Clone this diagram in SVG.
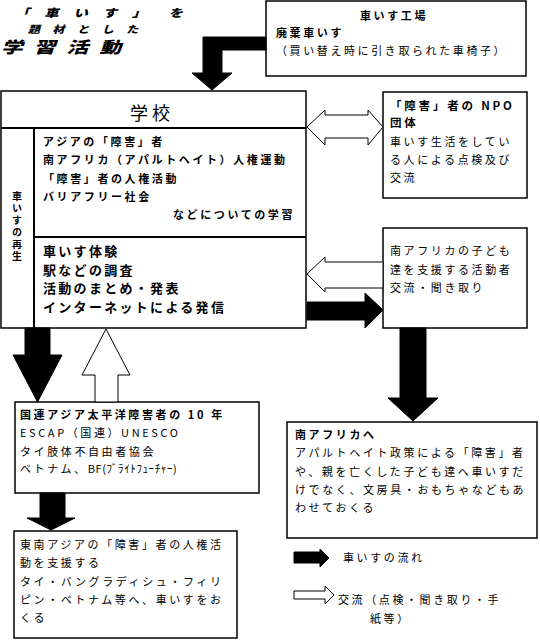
<svg xmlns="http://www.w3.org/2000/svg" width="540" height="640" viewBox="0 0 540 640">
<style>
text{font-family:"Noto Sans CJK JP","Noto Sans",sans-serif;fill:#000}
.box{fill:#fff;stroke:#000;stroke-width:1.5}
.ln{stroke:#000;stroke-width:2;fill:none}
.b{font-size:11px;letter-spacing:2.6px}
.bb{font-size:11px;font-weight:bold;letter-spacing:2.6px}
.big{font-size:13px;font-weight:bold;letter-spacing:2.3px}
.blk{fill:#000;stroke:#000;stroke-width:1}
.wht{fill:#fff;stroke:#000;stroke-width:1}
.ttl{font-weight:900;font-style:italic}
</style>
<rect width="540" height="640" fill="#fff"/>

<g id="title">
<text class="ttl" transform="translate(15,17) scale(1.3,1)" font-size="11" letter-spacing="11.5">「車いす」<tspan x="118">を</tspan></text>
<text class="ttl" transform="translate(28,32.5) scale(1.2,1)" font-size="10" letter-spacing="10.5">題材とした</text>
<text class="ttl" transform="translate(1,53) scale(1.35,1)" font-size="16" letter-spacing="8.3">学習活動</text>
</g>

<g id="factory">
<rect class="box" x="266" y="1" width="260" height="75"/>
<text class="bb" x="360" y="20">車いす工場</text>
<text class="bb" x="276" y="37">廃棄車いす</text>
<text class="b" x="276" y="55">（買い替え時に引き取られた車椅子）</text>
</g>

<g id="school">
<rect class="box" x="1" y="91" width="305" height="237"/>
<line class="ln" x1="1" y1="128" x2="306" y2="128"/>
<line class="ln" x1="34" y1="128" x2="34" y2="328"/>
<line class="ln" x1="34" y1="237" x2="306" y2="237"/>
<text x="152" y="120" font-size="18" letter-spacing="4" text-anchor="middle">学校</text>
<text x="17" y="191" font-size="10" font-weight="bold" letter-spacing="2" style="writing-mode:vertical-rl;text-orientation:upright">車いすの再生</text>
<text class="bb" x="43" y="146">アジアの「障害」者</text>
<text class="bb" x="43" y="164">南アフリカ（アパルトヘイト）人権運動</text>
<text class="bb" x="43" y="183">「障害」者の人権活動</text>
<text class="bb" x="43" y="201">バリアフリー社会</text>
<text class="bb" x="173" y="219">などについての学習</text>
<text class="big" x="43" y="256">車いす体験</text>
<text class="big" x="43" y="274.7">駅などの調査</text>
<text class="big" x="43" y="293.4">活動のまとめ・発表</text>
<text class="big" x="43" y="312">インターネットによる発信</text>
</g>

<g id="npo">
<rect class="box" x="383" y="92" width="144" height="106"/>
<text x="390" y="110" font-size="11.5" font-weight="bold" letter-spacing="2.8">「障害」者の NPO</text>
<text x="390" y="127" font-size="11.5" font-weight="bold" letter-spacing="2.8">団体</text>
<text class="b" x="390" y="146" letter-spacing="3.4">車いす生活をしてい</text>
<text class="b" x="390" y="164" letter-spacing="3.4">る人による点検及び</text>
<text class="b" x="390" y="182" letter-spacing="3.4">交流</text>
</g>

<g id="activists">
<rect class="box" x="383" y="228" width="144" height="100"/>
<text class="b" x="390" y="255">南アフリカの子ども</text>
<text class="b" x="390" y="274">達を支援する活動者</text>
<text class="b" x="390" y="292">交流・聞き取り</text>
</g>

<g id="southafrica">
<rect class="box" x="287" y="422" width="250" height="116"/>
<text class="bb" x="295" y="439">南アフリカへ</text>
<text class="b" x="295" y="457">アパルトヘイト政策による「障害」者</text>
<text class="b" x="295" y="476">や、親を亡くした子ども達へ車いすだ</text>
<text class="b" x="295" y="494">けでなく、文房具・おもちゃなどもあ</text>
<text class="b" x="295" y="512">わせておくる</text>
</g>

<g id="un">
<rect class="box" x="15" y="402" width="244" height="91"/>
<text class="bb" x="20" y="419" letter-spacing="3.2">国連アジア太平洋障害者の 10 年</text>
<text class="b" x="20" y="437" letter-spacing="3">ESCAP（国連）UNESCO</text>
<text class="b" x="20" y="456">タイ肢体不自由者協会</text>
<text class="b" x="20" y="473">ベトナム、<tspan letter-spacing="0.6">BF(ﾌﾞﾗｲﾄﾌｭｰﾁｬｰ)</tspan></text>
</g>

<g id="seasia">
<rect class="box" x="14" y="531" width="223" height="107"/>
<text class="b" x="20" y="549" letter-spacing="3.2">東南アジアの「障害」者の人権活</text>
<text class="b" x="20" y="567" letter-spacing="3.2">動を支援する</text>
<text class="b" x="20" y="586" letter-spacing="3.2">タイ・バングラディシュ・フィリ</text>
<text class="b" x="20" y="604" letter-spacing="3.2">ピン・ベトナム等へ、車いすをお</text>
<text class="b" x="20" y="622" letter-spacing="3.2">くる</text>
</g>

<g id="connectors">
<polygon class="blk" points="266,37 203,37 203,73 192,73 212,90 232,73 222,73 222,50 266,50"/>
<polygon class="wht" points="307,127 325,110 325,115 368,115 368,110 383,127 368,145 368,138 325,138 325,145"/>
<polygon class="wht" points="307,274 325,257 325,262 383,262 383,288 325,288 325,292"/>
<polygon class="blk" points="307,302 365,302 365,293 383,310 365,328 365,320 307,320"/>
<polygon class="blk" points="400,328 426,328 426,398 438,398 413,421 388,398 400,398"/>
<polygon class="blk" points="25,328 50,328 50,355 62,355 37.5,402 13,355 25,355"/>
<polygon class="wht" points="95,402 95,375 82,375 106,329 130,375 118,375 118,402"/>
<polygon class="blk" points="40,493 65,493 65,518 75,518 51,530 27,518 40,518"/>
</g>

<g id="legend">
<polygon class="blk" points="294,552 320,552 320,549 329,558 320,567 320,563 294,563"/>
<text class="b" x="343" y="562" letter-spacing="3.4">車いすの流れ</text>
<polygon class="wht" points="294,591 325,591 325,586 334,595 325,604 325,599 294,599"/>
<text class="b" x="338" y="604" letter-spacing="3.4">交流（点検・聞き取り・手</text>
<text class="b" x="370" y="623" letter-spacing="3.4">紙等）</text>
</g>
</svg>
